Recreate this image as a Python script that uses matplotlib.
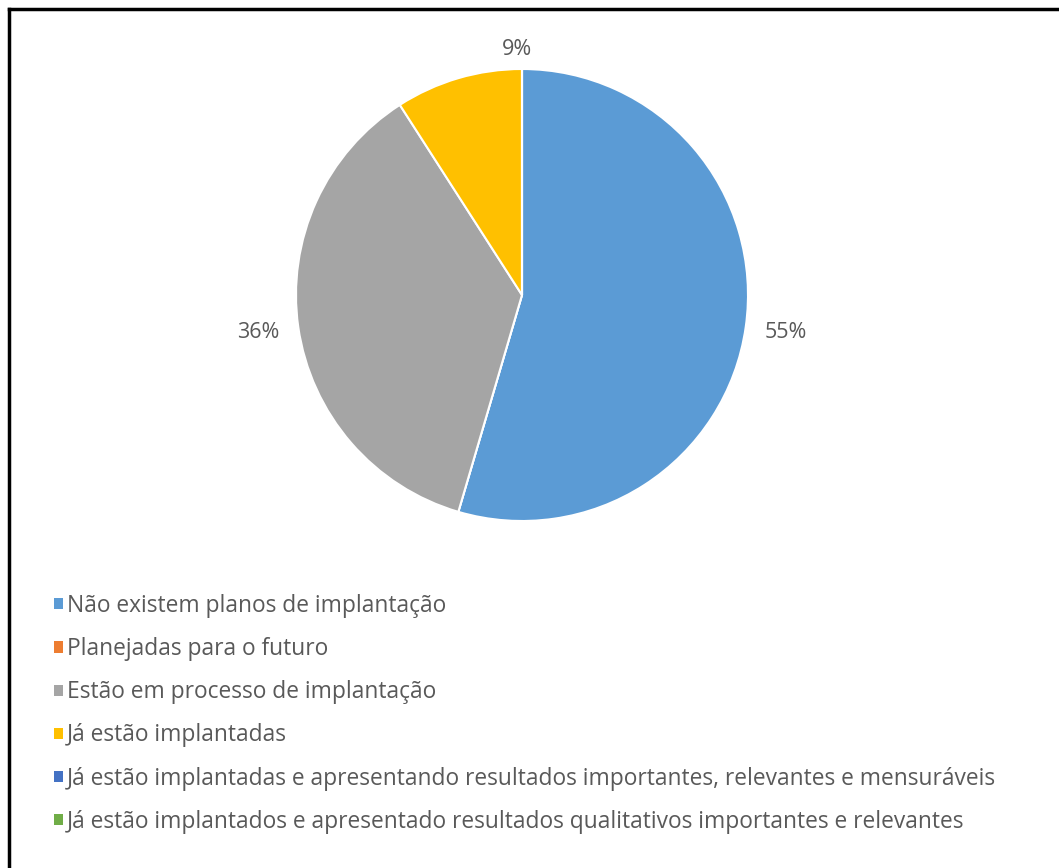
import matplotlib.pyplot as plt
from matplotlib.lines import Line2D
from matplotlib.patches import Patch

plt.rcParams['font.family'] = ['Open Sans', 'DejaVu Sans']

categories = [
    "Não existem planos de implantação",
    "Planejadas para o futuro",
    "Estão em processo de implantação",
    "Já estão implantadas",
    "Já estão implantadas e apresentando resultados importantes, relevantes e mensuráveis",
    "Já estão implantados e apresentado resultados qualitativos importantes e relevantes",
]
counts = [6, 0, 4, 1, 0, 0]
colors = ["#5B9BD5", "#ED7D31", "#A5A5A5", "#FFC000", "#4472C4", "#70AD47"]
text_gray = "#595959"

W, H = 1059, 868
fig = plt.figure(figsize=(W / 100, H / 100), dpi=100)

# pie centred at (522, 295) px, radius 226 px
cx, cy, r = 522, 295, 226
ax = fig.add_axes([(cx - r) / W, (H - cy - r) / H, 2 * r / W, 2 * r / H])


def pct(p):
    return "" if p < 0.5 else f"{p:.0f}%"


wedges, texts, autotexts = ax.pie(
    counts, colors=colors, startangle=90, counterclock=False,
    autopct=pct, pctdistance=1.18, radius=1,
    wedgeprops=dict(edgecolor="white", linewidth=1.5),
    textprops=dict(color=text_gray, fontsize=15.5),
)
# small slice label sits above the pie, near the top
autotexts[3].set_position((-0.02, 1.085))
ax.set_xlim(-1, 1)
ax.set_ylim(-1, 1)
ax.set_aspect("equal")
ax.axis("off")

handles = [Patch(facecolor=c, edgecolor="none") for c in colors]
leg = fig.legend(
    handles, categories, loc="upper left",
    bbox_to_anchor=(54 / W, 1 - 594 / H), frameon=False,
    fontsize=16.4, labelcolor=text_gray,
    handlelength=0.38, handleheight=0.38, handletextpad=0.2,
    labelspacing=0.84, borderaxespad=0, borderpad=0,
)

# frame line along the top and left edges
fig.add_artist(Line2D([8.5 / W, 1], [1 - 8.5 / H, 1 - 8.5 / H], color="black", lw=2.5,
                      transform=fig.transFigure))
fig.add_artist(Line2D([8.5 / W, 8.5 / W], [0, 1 - 8.5 / H], color="black", lw=2.5,
                      transform=fig.transFigure))

fig.savefig("out.png", dpi=100, facecolor="white")
